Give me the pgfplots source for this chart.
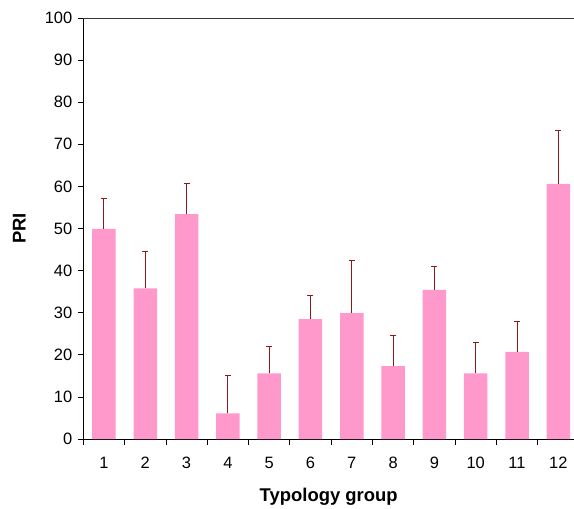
\documentclass[border=0pt]{standalone}
\usepackage{fontspec}
\setmainfont{Liberation Sans}
\usepackage{pgfplots}
\pgfplotsset{compat=1.18}

\definecolor{barpink}{HTML}{FF99CC}
\definecolor{errred}{HTML}{8B1A1A}

\pgfplotstableread{
grp val err
1  49.9 7.3
2  35.8 8.8
3  53.4 7.4
4  6.1  8.9
5  15.6 6.3
6  28.5 5.5
7  29.9 12.6
8  17.3 7.3
9  35.4 5.6
10 15.6 7.4
11 20.7 7.3
12 60.6 12.6
}\pri

\begin{document}
\begin{tikzpicture}
\begin{axis}[
    scale only axis,
    width=490.7bp,
    height=421bp,
    ymin=0, ymax=100,
    xmin=0.5, xmax=12.38,
    ytick={0,10,...,100},
    xtick={0.5,1.5,...,11.5},
    xticklabels={1,2,3,4,5,6,7,8,9,10,11,12},
    xticklabel style={xshift=20.65bp, yshift=-9bp},
    yticklabel style={xshift=-2bp},
    tick align=outside,
    major tick length=5.5bp,
    axis x line*=bottom,
    axis y line*=left,
    axis line style={black, line width=0.8pt},
    tick style={black, line width=0.8pt},
    tick label style={font=\fontsize{16.5}{19}\selectfont},
    /pgf/number format/assume math mode=true,
    every axis y label/.style={at={(rel axis cs:0,0.5)}, xshift=-64bp, rotate=90, anchor=center, font=\fontsize{18.5}{22}\selectfont\bfseries},
    every axis x label/.style={at={(rel axis cs:0.5,0)}, yshift=-58bp, anchor=center, font=\fontsize{18.5}{22}\selectfont\bfseries},
    ylabel={PRI},
    xlabel={Typology group},
    clip=false,
]
\addplot[ybar, bar width=23.5bp, fill=barpink, draw=none,
    error bars/.cd, y dir=plus, y explicit,
    error bar style={errred, line width=1pt},
    error mark options={rotate=90, mark size=3bp, errred, line width=1pt}]
    table[x=grp, y=val, y error=err] {\pri};
\draw[black!80, line width=0.8pt] (rel axis cs:0,1) -- (rel axis cs:1,1);
\end{axis}
\pgfresetboundingbox
\path ([shift={(-83.3bp,-70bp)}]current axis.south west) rectangle ([shift={(0bp,18bp)}]current axis.north east);
\end{tikzpicture}
\end{document}
